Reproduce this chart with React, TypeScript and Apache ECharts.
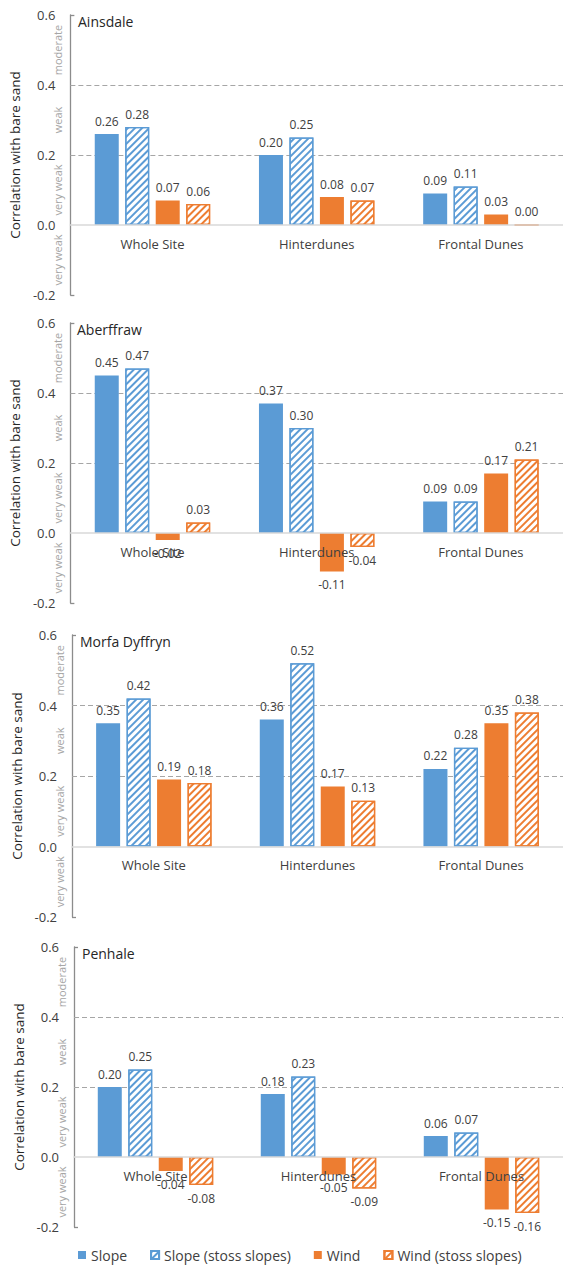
import { useEffect, useRef } from 'react';
import * as echarts from 'echarts';

// Correlation of slope / wind exposure with bare sand, by dune zone, for four sites
const categories = ['Whole Site', 'Hinterdunes', 'Frontal Dunes'];
const sites = ['Ainsdale', 'Aberffraw', 'Morfa Dyffryn', 'Penhale'];
const seriesNames = ['Slope', 'Slope (stoss slopes)', 'Wind', 'Wind (stoss slopes)'];

// one row per site, one value per category
const slope = [
  [0.26, 0.2, 0.09],
  [0.45, 0.37, 0.09],
  [0.35, 0.36, 0.22],
  [0.2, 0.18, 0.06],
];
const slopeStoss = [
  [0.28, 0.25, 0.11],
  [0.47, 0.3, 0.09],
  [0.42, 0.52, 0.28],
  [0.25, 0.23, 0.07],
];
const wind = [
  [0.07, 0.08, 0.03],
  [-0.02, -0.11, 0.17],
  [0.19, 0.17, 0.35],
  [-0.04, -0.05, -0.15],
];
const windStoss = [
  [0.06, 0.07, 0.0],
  [0.03, -0.04, 0.21],
  [0.18, 0.13, 0.38],
  [-0.08, -0.09, -0.16],
];

// y scale, strength thresholds and band names
const yMin = -0.2;
const yMax = 0.6;
const yInterval = 0.2;
const thresholds = [0.2, 0.4];
const bandCenters = [0.5, 0.3, 0.1, -0.1];
const bandLabels = ['moderate', 'weak', 'very weak', 'very weak'];

const BLUE = '#5B9BD5';
const ORANGE = '#ED7D31';
const FONT = '"Open Sans", "Noto Sans", sans-serif';

const panelLayout = [
  { left: 70, top: 15, height: 280 },
  { left: 69, top: 323, height: 280 },
  { left: 72, top: 635, height: 282 },
  { left: 74, top: 947, height: 280 },
];

const seriesValues = [slope, slopeStoss, wind, windStoss];
const seriesColors = [BLUE, BLUE, ORANGE, ORANGE];
const seriesHatched = [false, true, false, true];

function buildOption() {
  const grid = panelLayout.map((p) => ({
    left: p.left,
    top: p.top,
    width: 504,
    height: p.height,
    containLabel: false,
  }));

  // the category axis sits on the zero line: shift it up from the grid bottom
  // by the share of the value range that lies below zero
  const xAxis = panelLayout.map((p, i) => ({
    type: 'category',
    gridIndex: i,
    data: categories,
    position: 'bottom',
    z: 3,
    offset: -p.height * ((0 - yMin) / (yMax - yMin)),
    axisLine: { onZero: false, lineStyle: { color: '#d9d9d9', width: 1.5 } },
    axisTick: { show: false },
    axisLabel: {
      interval: 0,
      margin: 12,
      fontSize: 13,
      color: '#404040',
      fontFamily: FONT,
    },
    splitLine: { show: false },
  }));

  const mainY = panelLayout.map((_, i) => ({
    type: 'value',
    gridIndex: i,
    min: yMin,
    max: yMax,
    interval: yInterval,
    name: 'Correlation with bare sand',
    nameLocation: 'middle',
    nameGap: 38,
    nameTextStyle: { fontSize: 13.5, color: '#262626', fontFamily: FONT },
    axisLine: { show: true, lineStyle: { color: '#8c8c8c', width: 1.3 } },
    axisTick: {
      show: true,
      inside: true,
      length: 4,
      customValues: [yMin, yMax],
      lineStyle: { color: '#8c8c8c', width: 1.3 },
    },
    axisLabel: {
      margin: 15,
      fontSize: 13,
      color: '#404040',
      fontFamily: FONT,
      formatter: (v: number) => v.toFixed(1),
    },
    splitLine: { show: false },
  }));

  const bandY = panelLayout.map((_, i) => ({
    type: 'value',
    gridIndex: i,
    position: 'left',
    min: yMin,
    max: yMax,
    interval: 0.1,
    axisLine: { show: false },
    axisTick: { show: false },
    splitLine: { show: false },
    axisLabel: {
      customValues: bandCenters,
      rotate: 90,
      margin: 7,
      fontSize: 11,
      color: '#a6a6a6',
      fontFamily: FONT,
      formatter: (v: number) => {
        const idx = bandCenters.findIndex((c) => Math.abs(c - v) < 1e-6);
        return idx >= 0 ? bandLabels[idx] : '';
      },
    },
  }));

  const series: any[] = [];
  sites.forEach((_, s) => {
    seriesNames.forEach((name, k) => {
      const color = seriesColors[k];
      const itemStyle = seriesHatched[k]
        ? {
            color: '#ffffff',
            borderColor: color,
            borderWidth: 1.3,
            decal: {
              symbol: 'rect',
              symbolSize: 1,
              color,
              dashArrayX: [1, 0],
              dashArrayY: [2, 3],
              rotation: -Math.PI / 4,
            },
          }
        : { color };
      series.push({
        type: 'bar',
        name,
        xAxisIndex: s,
        yAxisIndex: s,
        barWidth: 24,
        barGap: '27%',
        itemStyle,
        label: {
          show: true,
          distance: 7,
          fontSize: 12,
          color: '#404040',
          fontFamily: FONT,
          formatter: (p: any) => Number(p.value).toFixed(2),
        },
        data: seriesValues[k][s].map((v) => ({
          value: v,
          label: { position: v < 0 ? 'bottom' : 'top' },
        })),
        markLine:
          k === 0
            ? {
                silent: true,
                z: 1,
                symbol: ['none', 'none'],
                label: { show: false },
                lineStyle: { type: [5, 3], color: '#a6a6a6', width: 1 },
                data: thresholds.map((t) => ({ yAxis: t })),
              }
            : undefined,
      });
    });
  });

  return {
    animation: false,
    backgroundColor: '#ffffff',
    textStyle: { fontFamily: FONT },
    title: sites.map((text, i) => ({
      text,
      left: panelLayout[i].left + 8,
      top: panelLayout[i].top - 1,
      padding: 0,
      textStyle: { fontSize: 14, fontWeight: 'normal', color: '#262626', fontFamily: FONT },
    })),
    legend: {
      data: seriesNames,
      top: 1248,
      left: 78,
      padding: 0,
      icon: 'rect',
      itemWidth: 8,
      itemHeight: 8,
      itemGap: 23,
      selectedMode: false,
      textStyle: { fontSize: 14, color: '#404040', fontFamily: FONT },
    },
    grid,
    xAxis,
    yAxis: [...mainY, ...bandY],
    series,
  };
}

export default function App() {
  const ref = useRef<HTMLDivElement>(null);

  useEffect(() => {
    if (!ref.current) return;
    const chart = echarts.init(ref.current, undefined, { renderer: 'svg' });
    chart.setOption(buildOption() as any);
    return () => chart.dispose();
  }, []);

  return (
    <div
      ref={ref}
      style={{ position: 'absolute', left: 0, top: 0, width: 563, height: 1267, background: '#fff' }}
    />
  );
}
